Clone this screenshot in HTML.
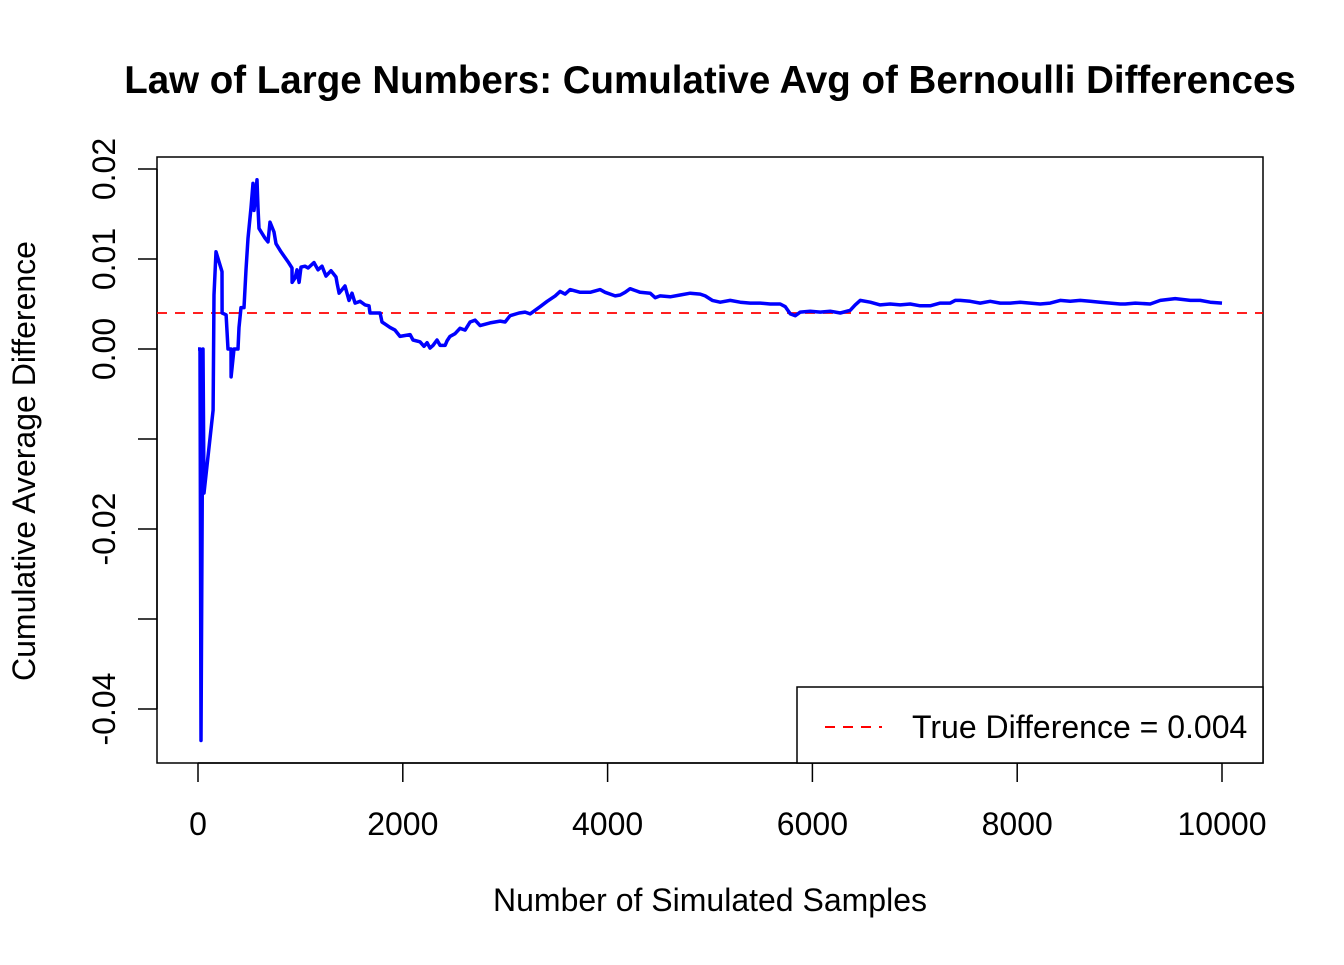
<!DOCTYPE html>
<html><head><meta charset="utf-8"><style>
body{margin:0;background:#fff;}
svg text{font-family:"Liberation Sans",Arial,sans-serif;}
</style></head><body>
<svg id="chart" width="1344" height="960" viewBox="0 0 1344 960">
<text x="710" y="93" font-size="38.5" font-weight="bold" text-anchor="middle">Law of Large Numbers: Cumulative Avg of Bernoulli Differences</text>
<rect x="157" y="157" width="1106" height="606" fill="none" stroke="#000" stroke-width="1.5"/>
<g id="xaxis"></g>
<g id="yaxis"></g>
<text x="710" y="911" font-size="32" text-anchor="middle">Number of Simulated Samples</text>
<text transform="translate(35,461) rotate(-90)" font-size="32" text-anchor="middle">Cumulative Average Difference</text>
<g id="series"></g>
<g>
<rect x="797" y="687" width="466" height="76" fill="#fff" stroke="#000" stroke-width="1.5"/>
<line x1="825" y1="727" x2="882" y2="727" stroke="#ff0000" stroke-width="2" stroke-dasharray="10,8"/>
<text x="912" y="738" font-size="32">True Difference = 0.004</text>
</g>
</svg>
<script>
const xs=[0,20,29,49,59,147,156,176,234,235,274,293,322,323,352,391,400,420,449,469,488,518,537,547,576,586,596,655,684,703,742,762,811,879,918,919,948,967,987,1006,1045,1075,1133,1172,1211,1250,1299,1348,1358,1378,1436,1475,1504,1534,1583,1631,1670,1680,1729,1778,1797,1836,1875,1924,1973,2071,2100,2168,2207,2237,2266,2295,2334,2364,2413,2432,2461,2510,2559,2608,2657,2706,2755,2852,2950,2999,3048,3136,3194,3243,3292,3341,3410,3488,3536,3585,3634,3732,3830,3927,3976,4074,4123,4171,4220,4318,4416,4465,4513,4611,4709,4807,4904,4953,5022,5100,5197,5295,5393,5491,5588,5686,5735,5784,5833,5882,5979,6077,6174,6272,6369,6418,6467,6565,6662,6760,6857,6955,7053,7150,7248,7346,7395,7443,7541,7639,7736,7834,7932,8029,8127,8225,8322,8420,8518,8615,8713,8811,8908,9006,9055,9153,9299,9397,9543,9690,9787,9885,10000];
const ys=[0,0,-0.0435,0,-0.016,-0.0068,0.006,0.0108,0.0086,0.004,0.0038,0,0,-0.0031,0,0,0.0024,0.0046,0.0046,0.0088,0.0123,0.0157,0.0184,0.0154,0.0188,0.0157,0.0134,0.0123,0.0119,0.0141,0.013,0.0117,0.0108,0.0097,0.009,0.0074,0.0079,0.0088,0.0074,0.0091,0.0092,0.009,0.0096,0.0088,0.0092,0.0081,0.0087,0.008,0.0073,0.0062,0.007,0.0054,0.0062,0.0051,0.0053,0.0049,0.0048,0.004,0.004,0.004,0.003,0.0027,0.0024,0.0021,0.0014,0.0016,0.001,0.0008,0.0003,0.0007,0.0001,0.0004,0.001,0.0004,0.0004,0.0009,0.0014,0.0017,0.0023,0.0021,0.003,0.0032,0.0026,0.0029,0.0031,0.003,0.0037,0.004,0.0041,0.0039,0.0043,0.0047,0.0053,0.0059,0.0064,0.0061,0.0066,0.0063,0.0063,0.0066,0.0063,0.0059,0.006,0.0063,0.0067,0.0063,0.0062,0.0057,0.0059,0.0058,0.006,0.0062,0.0061,0.0059,0.0054,0.0052,0.0054,0.0052,0.0051,0.0051,0.005,0.005,0.0047,0.0039,0.0037,0.0041,0.0042,0.0041,0.0042,0.004,0.0043,0.0049,0.0054,0.0052,0.0049,0.005,0.0049,0.005,0.0048,0.0048,0.0051,0.0051,0.0054,0.0054,0.0053,0.0051,0.0053,0.0051,0.0051,0.0052,0.0051,0.005,0.0051,0.0054,0.0053,0.0054,0.0053,0.0052,0.0051,0.005,0.005,0.0051,0.005,0.0054,0.0056,0.0054,0.0054,0.0052,0.0051];
const trueDiff=0.004;
const xTicks=[0,2000,4000,6000,8000,10000];
const yTicks=[-0.04,-0.03,-0.02,-0.01,0,0.01,0.02];
const yTickLabels=["-0.04","","-0.02","","0.00","0.01","0.02"];
const NS="http://www.w3.org/2000/svg";
const sx=v=>198+v*0.1024;
const sy=v=>349-v*9000;
function mk(t,a,p){const e=document.createElementNS(NS,t);for(const k in a)e.setAttribute(k,a[k]);p.appendChild(e);return e;}
const xa=document.getElementById('xaxis'),ya=document.getElementById('yaxis'),se=document.getElementById('series');
mk('line',{x1:sx(0),x2:sx(10000),y1:763,y2:763,stroke:'#000','stroke-width':1.5},xa);
xTicks.forEach(t=>{
 const l=mk('line',{x1:sx(t),x2:sx(t),y1:763,y2:782,stroke:'#000','stroke-width':1.5},xa);
 
 
 const tx=mk('text',{x:sx(t),y:835,'font-size':32,'text-anchor':'middle'},xa);tx.textContent=t;
 
 
});
mk('line',{x1:157,x2:157,y1:sy(-0.04),y2:sy(0.02),stroke:'#000','stroke-width':1.5},ya);
yTicks.forEach((t,i)=>{
 const l=mk('line',{x1:138,x2:157,y1:sy(t),y2:sy(t),stroke:'#000','stroke-width':1.5},ya);
 
 
 if(yTickLabels[i]){const tx=mk('text',{transform:`translate(115,${sy(t)}) rotate(-90)`,'font-size':32,'text-anchor':'middle'},ya);tx.textContent=yTickLabels[i];
 
 }
});
const ref=mk('line',{x1:157,x2:1263,y1:sy(trueDiff),y2:sy(trueDiff),stroke:'#ff0000','stroke-width':1.8,'stroke-dasharray':'10,8'},se);


const pts=xs.map((x,i)=>sx(x).toFixed(1)+','+sy(ys[i]).toFixed(1)).join(' ');
const pl=mk('polyline',{points:pts,fill:'none',stroke:'#0000ff','stroke-width':3.5,'stroke-linejoin':'round'},se);


</script>
</body></html>
